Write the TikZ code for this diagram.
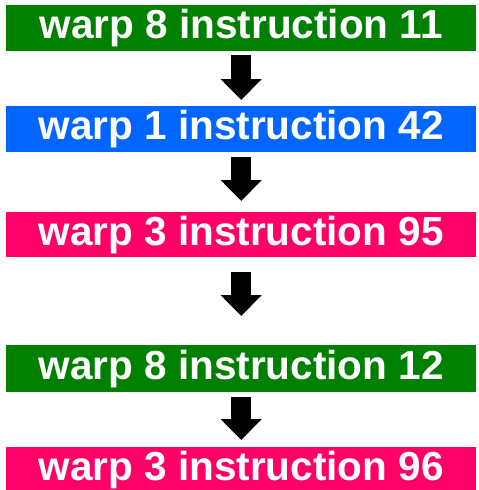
\documentclass[tikz,border=0pt]{standalone}
\usepackage{fontspec}
\setmainfont{Liberation Sans}
\usetikzlibrary{arrows.meta}
\definecolor{wgreen}{RGB}{0,128,0}
\definecolor{wblue}{RGB}{0,102,255}
\definecolor{wpink}{RGB}{255,0,102}
\tikzset{
  wbox/.style={anchor=north west, minimum width=470pt, minimum height=46pt, inner sep=0pt, text=white,
    font=\fontsize{40.5}{40.5}\selectfont\bfseries},
  bigarrow/.style={line width=20pt, -{Triangle[width=40pt,length=21pt]}, black}
}
\begin{document}
\begin{tikzpicture}[x=1pt,y=1pt]
\useasboundingbox (0,0) rectangle (479,-490);
\node[wbox, fill=wgreen] (b1) at (6,-5) {warp 8 instruction 11};
\node[wbox, fill=wblue] (b2) at (6,-106) {warp 1 instruction 42};
\node[wbox, fill=wpink, minimum height=45pt] (b3) at (6,-212) {warp 3 instruction 95};
\node[wbox, fill=wgreen, minimum height=47pt] (b4) at (6,-345) {warp 8 instruction 12};
\node[wbox, fill=wpink] (b5) at (6,-447) {warp 3 instruction 96};
\draw[bigarrow, shorten <=4pt, shorten >=6pt] ([xshift=-0pt]b1.south) -- (b2.north);
\draw[bigarrow, shorten <=5pt, shorten >=11pt] (b2.south) -- (b3.north);
\draw[bigarrow, shorten <=15pt, shorten >=29pt] (b3.south) -- (b4.north);
\draw[bigarrow, shorten <=5pt, shorten >=7pt] (b4.south) -- (b5.north);
\end{tikzpicture}
\end{document}
